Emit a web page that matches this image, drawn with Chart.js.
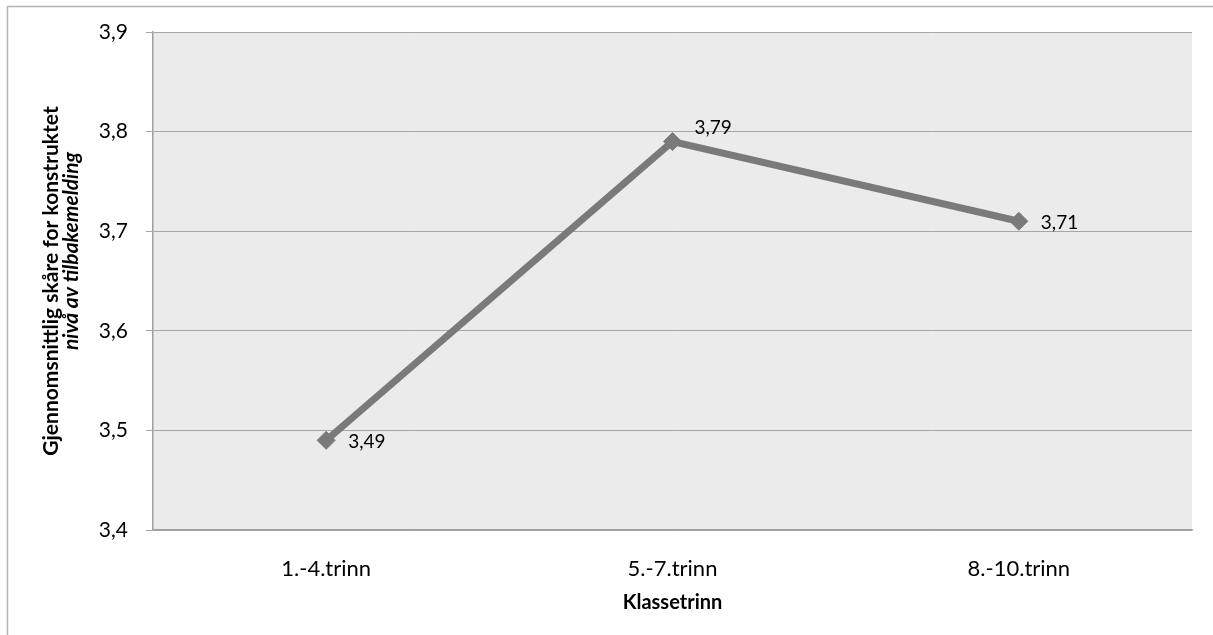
<!DOCTYPE html>
<html>
<head>
<meta charset="utf-8">
<script src="https://cdn.jsdelivr.net/npm/chart.js@4.4.1/dist/chart.umd.min.js"></script>
<style>
  body { margin: 0; background: #fff; }
  #wrap { width: 1213px; height: 635px; }
</style>
</head>
<body>
<div id="wrap"><canvas id="lineChart" width="1213" height="635"></canvas></div>
<script>
// grades and mean scores
var categories = ["1.-4.trinn", "5.-7.trinn", "8.-10.trinn"];
var meanScores = [3.49, 3.79, 3.71];
var yTicks = [3.4, 3.5, 3.6, 3.7, 3.8, 3.9];
// vertical nudge for each value label (px)
var labelDy = [2, -14, 2];

var yTitleLine1 = "Gjennomsnittlig skåre for konstruktet";
var yTitleLine2 = "nivå av tilbakemelding";
var fontFamily = "Lato, 'Open Sans', sans-serif";

function fmt(v) {
    return v.toFixed(2).replace(/0$/, "").replace(".", ",");
}

// grey plot area + outer frame
var backgroundPlugin = {
    id: 'plotBackground',
    beforeDraw: function (chart) {
        var ctx = chart.ctx, a = chart.chartArea;
        ctx.save();
        ctx.fillStyle = '#ebebeb';
        ctx.fillRect(a.left, a.top, a.right - a.left, a.bottom - a.top);
        ctx.strokeStyle = '#b4b4b4';
        ctx.lineWidth = 1.5;
        ctx.beginPath();
        ctx.moveTo(7.5, chart.height);
        ctx.lineTo(7.5, 6.5);
        ctx.lineTo(chart.width, 6.5);
        ctx.stroke();
        ctx.restore();
    }
};

// value labels next to the points and the two-font y axis title
var labelsPlugin = {
    id: 'valueLabels',
    afterDatasetsDraw: function (chart) {
        var ctx = chart.ctx;
        var meta = chart.getDatasetMeta(0);
        ctx.save();
        ctx.fillStyle = '#000';
        ctx.font = "19px " + fontFamily;
        ctx.textAlign = 'left';
        ctx.textBaseline = 'middle';
        meta.data.forEach(function (pt, i) {
            ctx.fillText(fmt(meanScores[i]), pt.x + 22, pt.y + labelDy[i]);
        });

        var a = chart.chartArea;
        var cy = (a.top + a.bottom) / 2;
        ctx.translate(51, cy);
        ctx.rotate(-Math.PI / 2);
        ctx.textAlign = 'center';
        ctx.font = "bold 21px " + fontFamily;
        ctx.fillText(yTitleLine1, 0, 0);
        ctx.font = "italic bold 21px " + fontFamily;
        ctx.fillText(yTitleLine2, 30, 20);
        ctx.restore();
    }
};

var chart = new Chart(document.getElementById('lineChart'), {
    type: 'line',
    data: {
        labels: categories,
        datasets: [{
            data: meanScores,
            borderColor: '#7a7a7a',
            backgroundColor: '#7a7a7a',
            borderWidth: 7,
            pointStyle: 'rectRot',
            pointRadius: 9,
            pointBorderWidth: 1,
            pointBackgroundColor: '#7a7a7a',
            pointBorderColor: '#7a7a7a',
            tension: 0
        }]
    },
    options: {
        responsive: false,
        animation: false,
        layout: { padding: { left: 80, top: 32, right: 21, bottom: 20 } },
        plugins: {
            legend: { display: false },
            tooltip: { enabled: false }
        },
        scales: {
            x: {
                offset: true,
                grid: { display: false },
                border: { display: true, color: '#a0a0a0', width: 1.5 },
                ticks: {
                    color: '#000',
                    font: { family: fontFamily, size: 22 },
                    padding: 18
                },
                title: {
                    display: true,
                    text: 'Klassetrinn',
                    color: '#000',
                    font: { family: fontFamily, size: 20, weight: 'bold' },
                    padding: { top: 6, bottom: 0 }
                },
                afterFit: function (scale) { scale.height = 85; }
            },
            y: {
                min: 3.4,
                max: 3.9,
                afterBuildTicks: function (scale) {
                    scale.ticks = yTicks.map(function (v) { return { value: v }; });
                },
                grid: { color: '#a6a6a6', lineWidth: 1, tickLength: 7 },
                border: { display: true, color: '#a0a0a0', width: 1.5 },
                ticks: {
                    color: '#000',
                    font: { family: fontFamily, size: 21 },
                    padding: 18,
                    callback: function (v) { return v.toFixed(1).replace('.', ','); }
                },
                afterFit: function (scale) { scale.width = 73; }
            }
        }
    },
    plugins: [backgroundPlugin, labelsPlugin]
});
</script>
</body>
</html>
